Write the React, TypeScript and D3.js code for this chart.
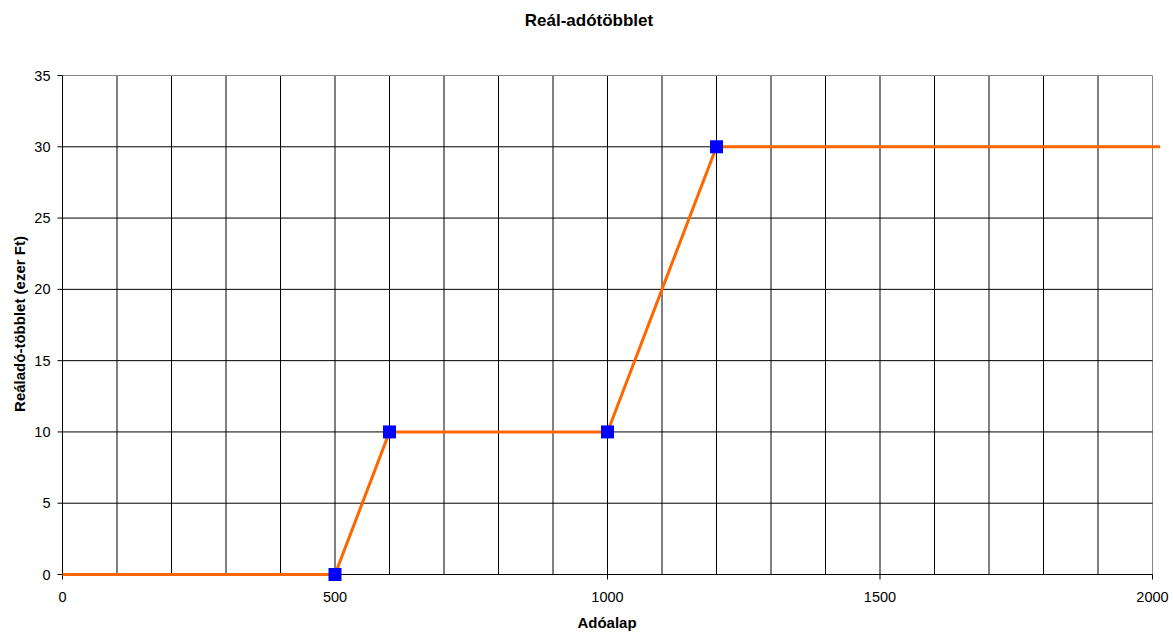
import React from "react";
import * as d3 from "d3";

const lineX = [0, 500, 600, 1000, 1200, 2014];
const lineY = [0, 0, 10, 10, 30, 30];
const markerX = [500, 600, 1000, 1200];
const markerY = [0, 10, 10, 30];
const xTicks = [0, 500, 1000, 1500, 2000];
const yTicks = [0, 5, 10, 15, 20, 25, 30, 35];
const xGrid = d3.range(100, 2001, 100);

export default function App() {
  const W = 1173, H = 632;
  const x = d3.scaleLinear().domain([0, 2000]).range([62.5, 1152.5]);
  const y = d3.scaleLinear().domain([0, 35]).range([574.5, 75.5]);
  const pts = lineX.map((v, i) => [x(v), y(lineY[i])] as [number, number]);
  const line = d3.line();
  const font = "'Liberation Sans', Arial, sans-serif";
  return (
    <svg width={W} height={H} style={{ position: "absolute", left: 0, top: 0, background: "#fff" }}>
      <text x={589} y={26} textAnchor="middle" fontFamily={font} fontWeight="bold" fontSize={17}>Reál-adótöbblet</text>
      {xGrid.map((v) => (
        <line key={"vx" + v} x1={x(v)} x2={x(v)} y1={y(35)} y2={y(0)} stroke={v === 2000 ? "#888" : "#000"} strokeWidth={1} />
      ))}
      {yTicks.filter((v) => v > 0).map((v) => (
        <line key={"hy" + v} x1={x(0)} x2={x(2000)} y1={y(v)} y2={y(v)} stroke={v === 35 ? "#888" : "#000"} strokeWidth={1} />
      ))}
      <line x1={x(0)} x2={x(0)} y1={y(35)} y2={y(0) + 4} stroke="#000" />
      <line x1={x(0)} x2={x(2000)} y1={y(0)} y2={y(0)} stroke="#000" />
      {yTicks.map((v) => (
        <g key={"yt" + v}>
          <line x1={x(0) - 5} x2={x(0)} y1={y(v)} y2={y(v)} stroke="#000" />
          <text x={x(0) - 12} y={y(v) + 5} textAnchor="end" fontFamily={font} fontSize={14.5}>{v}</text>
        </g>
      ))}
      {xTicks.map((v) => (
        <g key={"xt" + v}>
          <line x1={x(v)} x2={x(v)} y1={y(0)} y2={y(0) + 5} stroke="#000" />
          <text x={x(v)} y={602} textAnchor="middle" fontFamily={font} fontSize={14.5}>{v}</text>
        </g>
      ))}
      <text x={607} y={628} textAnchor="middle" fontFamily={font} fontWeight="bold" fontSize={15}>Adóalap</text>
      <text transform="translate(25,324) rotate(-90)" textAnchor="middle" fontFamily={font} fontWeight="bold" fontSize={15}>Reáladó-többlet (ezer Ft)</text>
      <path d={line(pts) || ""} fill="none" stroke="#FF6600" strokeWidth={3} strokeLinejoin="round" />
      {markerX.map((v, i) => (
        <rect key={"m" + v} x={x(v) - 6.5} y={y(markerY[i]) - 6.5} width={13} height={13} fill="#0000FF" />
      ))}
    </svg>
  );
}
